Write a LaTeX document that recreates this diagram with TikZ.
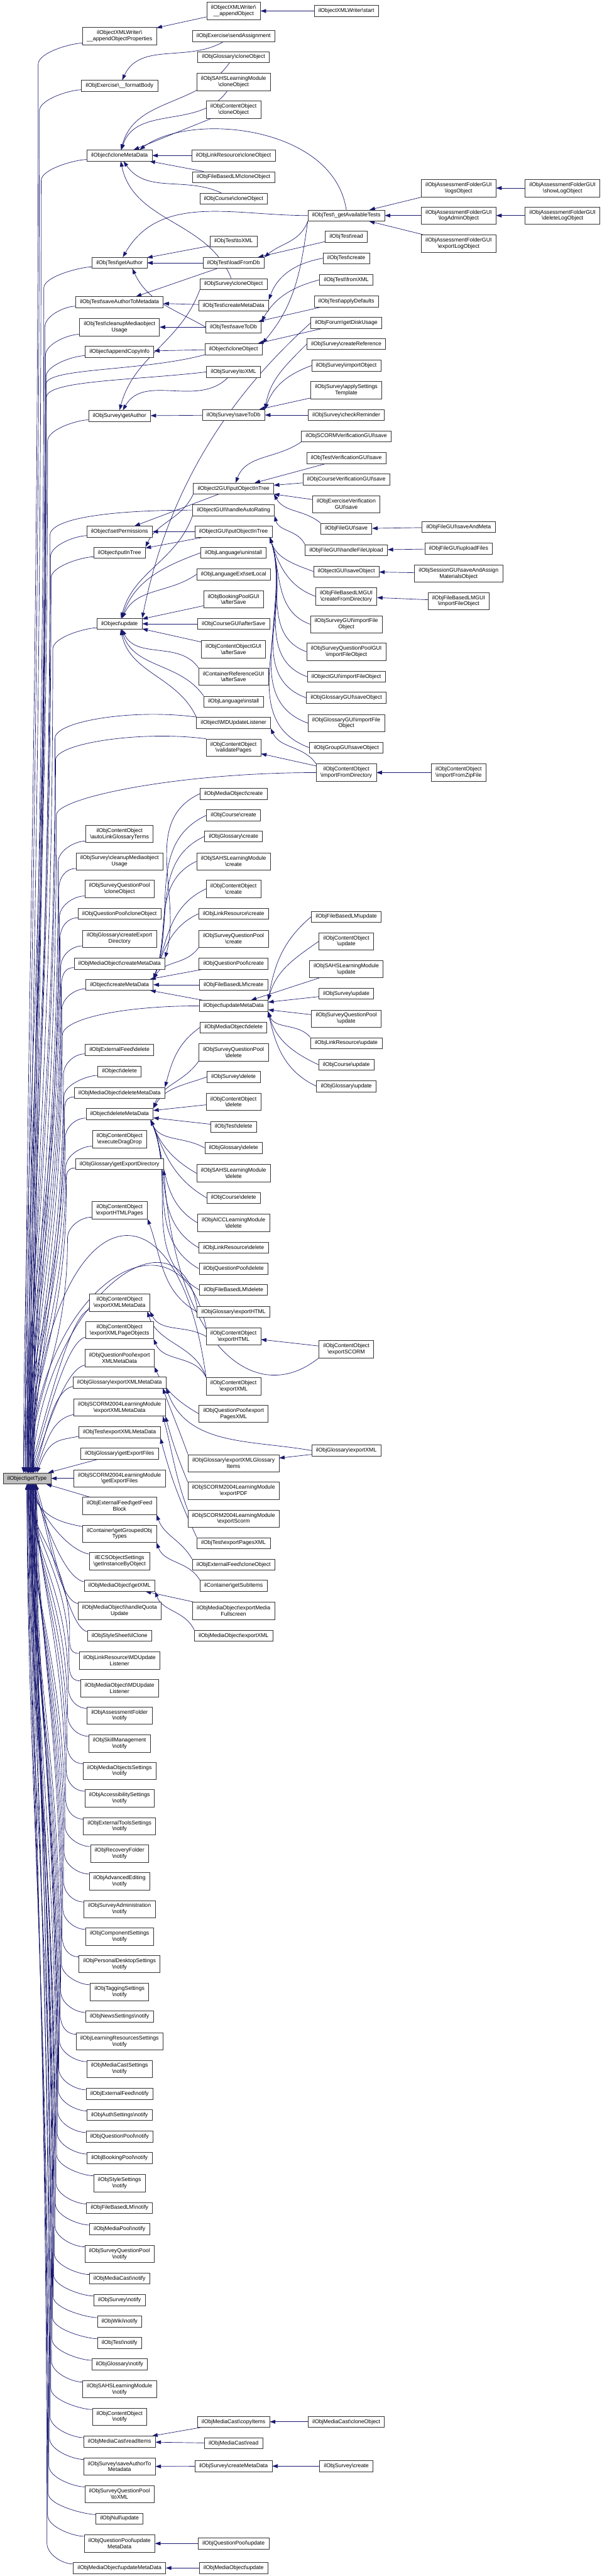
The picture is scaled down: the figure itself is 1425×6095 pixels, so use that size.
\documentclass[tikz,border=0pt]{standalone}
\usepackage{fontspec}
\setmainfont{Liberation Sans}
\usetikzlibrary{arrows.meta, backgrounds, calc}

\definecolor{edgeblue}{HTML}{191970}
\newcommand{\bsl}{\textbackslash}
\newcommand{\graphfont}{\fontsize{13pt}{14.5pt}\selectfont}
% notify() callers: name / y
\newcommand{\notifytall}{AssessmentFolder/4059, SkillManagement/4125,
    MediaObjectsSettings/4190, AccessibilitySettings/4255,
    ExternalToolsSettings/4321, RecoveryFolder/4386, AdvancedEditing/4451,
    SurveyAdministration/4517, ComponentSettings/4582,
    PersonalDesktopSettings/4647, TaggingSettings/4713,
    LearningResourcesSettings/4830, MediaCastSettings/4895,
    StyleSettings/5165, SurveyQuestionPool/5333, SAHSLearningModule/5653,
    ContentObject/5718}
\newcommand{\notifyflat}{NewsSettings/4771, ExternalFeed/4954, AuthSettings/5004,
    QuestionPool/5055, BookingPool/5106, FileBasedLM/5224, MediaPool/5274,
    MediaCast/5391, Survey/5442, Wiki/5493, Test/5543, Glossary/5594}

\begin{document}
\begin{tikzpicture}[
    x=1pt, y=1pt,
    every node/.style={font=\graphfont},
    >={Triangle[length=13pt,width=9pt]},
    fn/.style={draw=black!80, line width=0.9pt, fill=white, minimum height=26pt,
               inner xsep=10pt, inner ysep=2pt, align=center},
    tall/.style={fn, minimum height=41pt},
    call/.style={->, draw=edgeblue, line width=1pt},
]

\useasboundingbox (0,0) rectangle (1425,-6095);
\begin{pgfonlayer}{background}
  \fill[white] (0,0) rectangle (1425,-6095);
\end{pgfonlayer}

% === the called function ===
\node[fn, fill=black!25] (gt) at (64,-3498) {ilObject\bsl getType};

% === column 1 ===
\node[tall] (axp) at (283,-85)  {ilObjectXMLWriter\bsl\\\_\_appendObjectProperties};
\node[fn]   (fmb) at (283,-203) {ilObjExercise\bsl\_\_formatBody};
\node[fn]   (cmd) at (283,-368) {ilObject\bsl cloneMetaData};
\node[fn]   (tga) at (283,-622) {ilObjTest\bsl getAuthor};
\node[fn]   (tsa) at (283,-715) {ilObjTest\bsl saveAuthorToMetadata};
\node[tall] (tcu) at (283,-774) {ilObjTest\bsl cleanupMediaobject\\Usage};
\node[fn]   (aci) at (283,-832) {ilObject\bsl appendCopyInfo};
\node[fn]   (sga) at (283,-984) {ilObjSurvey\bsl getAuthor};
\node[fn]   (spm) at (283,-1258) {ilObject\bsl setPermissions};
\node[fn]   (pit) at (283,-1308) {ilObject\bsl putInTree};
\node[fn]   (upd) at (283,-1476) {ilObject\bsl update};
\node[tall] (alg) at (283,-1973) {ilObjContentObject\\\bsl autoLinkGlossaryTerms};
\node[tall] (scu) at (283,-2038) {ilObjSurvey\bsl cleanupMediaobject\\Usage};
\node[tall] (sqc) at (283,-2103) {ilObjSurveyQuestionPool\\\bsl cloneObject};
\node[fn]   (qpc) at (283,-2162) {ilObjQuestionPool\bsl cloneObject};
\node[tall] (ged) at (283,-2221) {ilObjGlossary\bsl createExport\\Directory};
\node[fn]   (mcm) at (283,-2280) {ilObjMediaObject\bsl createMetaData};
\node[fn]   (ocm) at (283,-2330) {ilObject\bsl createMetaData};
\node[fn]   (efd) at (283,-2484) {ilObjExternalFeed\bsl delete};
\node[fn]   (odl) at (283,-2535) {ilObject\bsl delete};
\node[fn]   (mdm) at (283,-2586) {ilObjMediaObject\bsl deleteMetaData};
\node[fn]   (odm) at (283,-2636) {ilObject\bsl deleteMetaData};
\node[tall] (edd) at (283,-2695) {ilObjContentObject\\\bsl executeDragDrop};
\node[fn]   (gxd) at (283,-2754) {ilObjGlossary\bsl getExportDirectory};
\node[tall] (ehp) at (283,-2863) {ilObjContentObject\\\bsl exportHTMLPages};
\node[tall] (cxm) at (283,-3082) {ilObjContentObject\\\bsl exportXMLMetaData};
\node[tall] (cxp) at (283,-3147) {ilObjContentObject\\\bsl exportXMLPageObjects};
\node[tall] (qxm) at (283,-3213) {ilObjQuestionPool\bsl export\\XMLMetaData};
\node[fn]   (gxm) at (283,-3271) {ilObjGlossary\bsl exportXMLMetaData};
\node[tall] (sxm) at (283,-3330) {ilObjSCORM2004LearningModule\\\bsl exportXMLMetaData};
\node[fn]   (txm) at (283,-3389) {ilObjTest\bsl exportXMLMetaData};
\node[fn]   (gef) at (283,-3439) {ilObjGlossary\bsl getExportFiles};
\node[tall] (sef) at (283,-3498) {ilObjSCORM2004LearningModule\\\bsl getExportFiles};
\node[tall] (fb)  at (283,-3563) {ilObjExternalFeed\bsl getFeed\\Block};
\node[tall] (got) at (283,-3629) {ilContainer\bsl getGroupedObj\\Types};
\node[tall] (ecs) at (283,-3694) {ilECSObjectSettings\\\bsl getInstanceByObject};
\node[fn]   (mgx) at (283,-3752) {ilObjMediaObject\bsl getXML};
\node[tall] (mhq) at (283,-3811) {ilObjMediaObject\bsl handleQuota\\Update};
\node[fn]   (ssc) at (283,-3870) {ilObjStyleSheet\bsl ilClone};
\node[tall] (lmu) at (283,-3929) {ilObjLinkResource\bsl MDUpdate\\Listener};
\node[tall] (mmu) at (283,-3994) {ilObjMediaObject\bsl MDUpdate\\Listener};
\foreach \lb/\yy in \notifytall
  \node[tall] (nt\lb) at (283,-\yy) {ilObj\lb\\\bsl notify};
\foreach \lb/\yy in \notifyflat
  \node[fn] (nt\lb) at (283,-\yy) {ilObj\lb\bsl notify};
\node[fn]   (mri) at (283,-5777) {ilObjMediaCast\bsl readItems};
\node[tall] (ssa) at (283,-5836) {ilObjSurvey\bsl saveAuthorTo\\Metadata};
\node[tall] (sqx) at (283,-5901) {ilObjSurveyQuestionPool\\\bsl toXML};
\node[fn]   (nul) at (283,-5959) {ilObjNull\bsl update};
\node[tall] (qum) at (283,-6018) {ilObjQuestionPool\bsl update\\MetaData};
\node[fn]   (mum) at (283,-6076) {ilObjMediaObject\bsl updateMetaData};

% === column 2 ===
\node[tall] (apo) at (553,-26)  {ilObjectXMLWriter\bsl\\\_\_appendObject};
\node[fn]   (esa) at (553,-85)  {ilObjExercise\bsl sendAssignment};
\node[fn]   (gco) at (553,-135) {ilObjGlossary\bsl cloneObject};
\node[tall] (sco) at (553,-194) {ilObjSAHSLearningModule\\\bsl cloneObject};
\node[tall] (cco) at (553,-259) {ilObjContentObject\\\bsl cloneObject};
\node[fn]   (lco) at (553,-368) {ilObjLinkResource\bsl cloneObject};
\node[fn]   (fco) at (553,-419) {ilObjFileBasedLM\bsl cloneObject};
\node[fn]   (kco) at (553,-470) {ilObjCourse\bsl cloneObject};
\node[fn]   (txl) at (553,-571) {ilObjTest\bsl toXML};
\node[fn]   (tld) at (553,-622) {ilObjTest\bsl loadFromDb};
\node[fn]   (svc) at (553,-672) {ilObjSurvey\bsl cloneObject};
\node[fn]   (tcm) at (553,-723) {ilObjTest\bsl createMetaData};
\node[fn]   (tsd) at (553,-774) {ilObjTest\bsl saveToDb};
\node[fn]   (oco) at (553,-826) {ilObject\bsl cloneObject};
\node[fn]   (sxl) at (553,-880) {ilObjSurvey\bsl toXML};
\node[fn]   (ssd) at (553,-982) {ilObjSurvey\bsl saveToDb};
\node[fn]   (p2g) at (553,-1156) {ilObject2GUI\bsl putObjectInTree};
\node[fn]   (har) at (553,-1207) {ilObjectGUI\bsl handleAutoRating};
\node[fn]   (pog) at (553,-1258) {ilObjectGUI\bsl putObjectInTree};
\node[fn]   (lun) at (553,-1308) {ilObjLanguage\bsl uninstall};
\node[fn]   (lsl) at (553,-1359) {ilObjLanguageExt\bsl setLocal};
\node[tall] (bas) at (553,-1418) {ilObjBookingPoolGUI\\\bsl afterSave};
\node[fn]   (cas) at (553,-1476) {ilObjCourseGUI\bsl afterSave};
\node[tall] (oas) at (553,-1536) {ilObjContentObjectGUI\\\bsl afterSave};
\node[tall] (ras) at (553,-1601) {ilContainerReferenceGUI\\\bsl afterSave};
\node[fn]   (lin) at (553,-1660) {ilObjLanguage\bsl install};
\node[fn]   (mdl) at (553,-1710) {ilObject\bsl MDUpdateListener};
\node[tall] (vpg) at (553,-1769) {ilObjContentObject\\\bsl validatePages};
\node[fn]   (moc) at (553,-1878) {ilObjMediaObject\bsl create};
\node[fn]   (kcr) at (553,-1929) {ilObjCourse\bsl create};
\node[fn]   (gcr) at (553,-1979) {ilObjGlossary\bsl create};
\node[tall] (scr) at (553,-2038) {ilObjSAHSLearningModule\\\bsl create};
\node[tall] (ccr) at (553,-2103) {ilObjContentObject\\\bsl create};
\node[fn]   (lcr) at (553,-2162) {ilObjLinkResource\bsl create};
\node[tall] (sqr) at (553,-2221) {ilObjSurveyQuestionPool\\\bsl create};
\node[fn]   (qcr) at (553,-2280) {ilObjQuestionPool\bsl create};
\node[fn]   (fcr) at (553,-2330) {ilObjFileBasedLM\bsl create};
\node[fn]   (umd) at (553,-2380) {ilObject\bsl updateMetaData};
\node[fn]   (mde) at (553,-2431) {ilObjMediaObject\bsl delete};
\node[tall] (sqd) at (553,-2490) {ilObjSurveyQuestionPool\\\bsl delete};
\node[fn]   (svd) at (553,-2548) {ilObjSurvey\bsl delete};
\node[tall] (cde) at (553,-2607) {ilObjContentObject\\\bsl delete};
\node[fn]   (tde) at (553,-2666) {ilObjTest\bsl delete};
\node[fn]   (gde) at (553,-2716) {ilObjGlossary\bsl delete};
\node[tall] (sde) at (553,-2776) {ilObjSAHSLearningModule\\\bsl delete};
\node[fn]   (kde) at (553,-2834) {ilObjCourse\bsl delete};
\node[tall] (ade) at (553,-2893) {ilObjAICCLearningModule\\\bsl delete};
\node[fn]   (lde) at (553,-2952) {ilObjLinkResource\bsl delete};
\node[fn]   (qde) at (553,-3002) {ilObjQuestionPool\bsl delete};
\node[fn]   (fde) at (553,-3052) {ilObjFileBasedLM\bsl delete};
\node[fn]   (ghl) at (553,-3104) {ilObjGlossary\bsl exportHTML};
\node[tall] (chl) at (553,-3162) {ilObjContentObject\\\bsl exportHTML};
\node[tall] (cxl) at (553,-3280) {ilObjContentObject\\\bsl exportXML};
\node[tall] (qpx) at (553,-3345) {ilObjQuestionPool\bsl export\\PagesXML};
\node[tall] (ggi) at (553,-3462) {ilObjGlossary\bsl exportXMLGlossary\\Items};
\node[tall] (spd) at (553,-3527) {ilObjSCORM2004LearningModule\\\bsl exportPDF};
\node[tall] (ssm) at (553,-3593) {ilObjSCORM2004LearningModule\\\bsl exportScorm};
\node[fn]   (tpx) at (553,-3651) {ilObjTest\bsl exportPagesXML};
\node[fn]   (fcl) at (553,-3702) {ilObjExternalFeed\bsl cloneObject};
\node[fn]   (gsi) at (553,-3752) {ilContainer\bsl getSubItems};
\node[tall] (mef) at (553,-3811) {ilObjMediaObject\bsl exportMedia\\Fullscreen};
\node[fn]   (mex) at (553,-3870) {ilObjMediaObject\bsl exportXML};
\node[fn]   (mci) at (553,-5730) {ilObjMediaCast\bsl copyItems};
\node[fn]   (mrd) at (553,-5781) {ilObjMediaCast\bsl read};
\node[fn]   (scm) at (553,-5835) {ilObjSurvey\bsl createMetaData};
\node[fn]   (qup) at (553,-6018) {ilObjQuestionPool\bsl update};
\node[fn]   (mup) at (553,-6076) {ilObjMediaObject\bsl update};

% === column 3 ===
\node[fn]   (xst) at (820,-26)  {ilObjectXMLWriter\bsl start};
\node[fn]   (gat) at (820,-510) {ilObjTest\bsl\_getAvailableTests};
\node[fn]   (trd) at (820,-560) {ilObjTest\bsl read};
\node[fn]   (tcr) at (820,-611) {ilObjTest\bsl create};
\node[fn]   (tfx) at (820,-662) {ilObjTest\bsl fromXML};
\node[fn]   (tad) at (820,-713) {ilObjTest\bsl applyDefaults};
\node[fn]   (fdu) at (820,-764) {ilObjForum\bsl getDiskUsage};
\node[fn]   (scf) at (820,-814) {ilObjSurvey\bsl createReference};
\node[fn]   (sio) at (820,-865) {ilObjSurvey\bsl importObject};
\node[tall] (sas) at (820,-923) {ilObjSurvey\bsl applySettings\\Template};
\node[fn]   (crm) at (820,-982) {ilObjSurvey\bsl checkReminder};
\node[fn]   (vsc) at (820,-1032) {ilObjSCORMVerificationGUI\bsl save};
\node[fn]   (vte) at (820,-1084) {ilObjTestVerificationGUI\bsl save};
\node[fn]   (vco) at (820,-1134) {ilObjCourseVerificationGUI\bsl save};
\node[tall] (vex) at (820,-1193) {ilObjExerciseVerification\\GUI\bsl save};
\node[fn]   (fsv) at (820,-1251) {ilObjFileGUI\bsl save};
\node[fn]   (ffu) at (820,-1302) {ilObjFileGUI\bsl handleFileUpload};
\node[fn]   (gso) at (820,-1352) {ilObjectGUI\bsl saveObject};
\node[tall] (fcd) at (820,-1411) {ilObjFileBasedLMGUI\\\bsl createFromDirectory};
\node[tall] (sgi) at (820,-1477) {ilObjSurveyGUI\bsl importFile\\Object};
\node[tall] (qgi) at (820,-1542) {ilObjSurveyQuestionPoolGUI\\\bsl importFileObject};
\node[fn]   (ogi) at (820,-1601) {ilObjectGUI\bsl importFileObject};
\node[fn]   (ggs) at (820,-1651) {ilObjGlossaryGUI\bsl saveObject};
\node[tall] (ggf) at (820,-1711) {ilObjGlossaryGUI\bsl importFile\\Object};
\node[fn]   (grs) at (820,-1769) {ilObjGroupGUI\bsl saveObject};
\node[tall] (ifd) at (820,-1828) {ilObjContentObject\\\bsl importFromDirectory};
\node[fn]   (fup) at (820,-2169) {ilObjFileBasedLM\bsl update};
\node[tall] (cup) at (820,-2227) {ilObjContentObject\\\bsl update};
\node[tall] (hup) at (820,-2293) {ilObjSAHSLearningModule\\\bsl update};
\node[fn]   (vup) at (820,-2351) {ilObjSurvey\bsl update};
\node[tall] (qpu) at (820,-2410) {ilObjSurveyQuestionPool\\\bsl update};
\node[fn]   (lup) at (820,-2468) {ilObjLinkResource\bsl update};
\node[fn]   (kup) at (820,-2519) {ilObjCourse\bsl update};
\node[fn]   (gup) at (820,-2570) {ilObjGlossary\bsl update};
\node[tall] (csc) at (820,-3192) {ilObjContentObject\\\bsl exportSCORM};
\node[fn]   (gex) at (820,-3432) {ilObjGlossary\bsl exportXML};
\node[fn]   (mcc) at (820,-5730) {ilObjMediaCast\bsl cloneObject};
\node[fn]   (svr) at (820,-5835) {ilObjSurvey\bsl create};

% === columns 4 and 5 ===
\node[tall] (alo) at (1086,-445)  {ilObjAssessmentFolderGUI\\\bsl logsObject};
\node[tall] (aad) at (1086,-510)  {ilObjAssessmentFolderGUI\\\bsl logAdminObject};
\node[tall] (aex) at (1086,-576)  {ilObjAssessmentFolderGUI\\\bsl exportLogObject};
\node[fn]   (fsm) at (1086,-1247) {ilObjFileGUI\bsl saveAndMeta};
\node[fn]   (fuf) at (1086,-1298) {ilObjFileGUI\bsl uploadFiles};
\node[tall] (sam) at (1086,-1357) {ilObjSessionGUI\bsl saveAndAssign\\MaterialsObject};
\node[tall] (fif) at (1086,-1422) {ilObjFileBasedLMGUI\\\bsl importFileObject};
\node[tall] (izf) at (1086,-1828) {ilObjContentObject\\\bsl importFromZipFile};
\node[tall] (asl) at (1332,-445)  {ilObjAssessmentFolderGUI\\\bsl showLogObject};
\node[tall] (adl) at (1332,-510)  {ilObjAssessmentFolderGUI\\\bsl deleteLogObject};

\begin{pgfonlayer}{background}
% === calls into getType from above: short bend, long lane, tip on a short end piece ===
\foreach \c [count=\i] in {axp,fmb,cmd,tga,tsa,tcu,aci,sga,spm,pit,upd,alg,
    scu,sqc,qpc,ged,mcm,ocm,efd,odl,mdm,odm,edd,gxd,ehp} {
  \pgfmathsetmacro\sh{mod(\i,7)*4-8}
  \draw[call] let \p1=([yshift=4pt]\c.south west), \p2=([xshift=\sh pt]gt.north),
      \n1={175-0.025*(\y1-\y2)}, \n2={\y1-50},
      \n3={0.5*(\y1-50-\y2)}, \n4={0.3*(\y1-50-\y2)} in
    (\p1) .. controls +(-25,0) and +(0,28) .. (\n1,\n2)
          .. controls +(0,-\n3) and +(0,\n4) .. ([yshift=12pt]\p2) -- (\p2);
}
\foreach \c [count=\i] in {cxm,cxp,qxm,gxm,sxm,txm} {
  \pgfmathsetmacro\sh{\i*4}
  \draw[call] let \p1=([yshift=4pt]\c.south west), \p2=([xshift=\sh pt]gt.north) in
    (\p1) .. controls +(-50,-10) and +(25,70) .. ([shift={(3pt,10pt)}]\p2) -- (\p2);
}
% from col2 and col3 straight into getType
\foreach \c/\ox/\oy/\ly/\sh in {oco.south west/-150/-40/70/2, sxl.west/-170/-20/60/6,
    har.west/-200/0/60/10, mdl.north west/-150/20/50/4, vpg.north west/-150/20/50/8,
    ifd.west/-330/0/100/12, umd.west/-180/0/70/14} {
  \draw[call] let \p1=(\c), \p2=([xshift=\sh pt]gt.north),
      \n1={175-0.025*(\y1-\y2)}, \n2={\y1-\ly},
      \n3={0.5*(\y1-\ly-\y2)}, \n4={0.3*(\y1-\ly-\y2)} in
    (\p1) .. controls +(\ox,\oy) and +(0,40) .. (\n1,\n2)
          .. controls +(0,-\n3) and +(0,\n4) .. ([yshift=12pt]\p2) -- (\p2);
}
\draw[call] (gef) -- (gt);
\draw[call] (sef) -- (gt);
\draw[call] (fb) -- (gt);
\draw[call] (chl.north west) .. controls +(-60,300) and +(30,450) .. ([shift={(4pt,12pt)}]gt.north) -- ([xshift=4pt]gt.north);
\draw[call] (cxl.north west) .. controls +(-70,520) and +(30,640) .. ([shift={(8pt,12pt)}]gt.north) -- ([xshift=8pt]gt.north);
\draw[call] (ghl.north west) .. controls +(-50,250) and +(30,400) .. ([shift={(12pt,12pt)}]gt.north) -- ([xshift=12pt]gt.north);

% === calls into getType from below ===
\foreach \c [count=\i] in {got,ecs,mgx,mhq,ssc} {
  \pgfmathsetmacro\sh{\i*4}
  \draw[call] let \p1=([yshift=-4pt]\c.north west), \p2=([xshift=\sh pt]gt.south) in
    (\p1) .. controls +(-50,10) and +(25,-70) .. ([shift={(3pt,-10pt)}]\p2) -- (\p2);
}
\foreach \c [count=\i] in {lmu,mmu,mri,ssa,sqx,nul,qum,mum} {
  \pgfmathsetmacro\sh{mod(\i,5)*4}
  \draw[call] let \p1=([yshift=-4pt]\c.north west), \p2=([xshift=\sh pt]gt.south),
      \n1={175-0.025*(\y2-\y1)}, \n2={\y1+50},
      \n3={0.5*(\y2-\y1-50)}, \n4={0.3*(\y2-\y1-50)} in
    (\p1) .. controls +(-25,0) and +(0,-28) .. (\n1,\n2)
          .. controls +(0,\n3) and +(0,-\n4) .. ([yshift=-12pt]\p2) -- (\p2);
}
\foreach \lb/\yy [count=\i] in \notifytall {
  \pgfmathsetmacro\sh{mod(\i,6)*4+2}
  \draw[call] let \p1=([yshift=-4pt]nt\lb.north west), \p2=([xshift=\sh pt]gt.south),
      \n1={175-0.025*(\y2-\y1)}, \n2={\y1+50},
      \n3={0.5*(\y2-\y1-50)}, \n4={0.3*(\y2-\y1-50)} in
    (\p1) .. controls +(-25,0) and +(0,-28) .. (\n1,\n2)
          .. controls +(0,\n3) and +(0,-\n4) .. ([yshift=-12pt]\p2) -- (\p2);
}
\foreach \lb/\yy [count=\i] in \notifyflat {
  \pgfmathsetmacro\sh{mod(\i,6)*4}
  \draw[call] let \p1=([yshift=-4pt]nt\lb.north west), \p2=([xshift=\sh pt]gt.south),
      \n1={175-0.025*(\y2-\y1)}, \n2={\y1+50},
      \n3={0.5*(\y2-\y1-50)}, \n4={0.3*(\y2-\y1-50)} in
    (\p1) .. controls +(-25,0) and +(0,-28) .. (\n1,\n2)
          .. controls +(0,\n3) and +(0,-\n4) .. ([yshift=-12pt]\p2) -- (\p2);
}

% === top block ===
\draw[call] (xst) -- (apo);
\draw[call] (apo) -- (axp);
\draw[call] (esa) to[out=210,in=65] (fmb);
\draw[call] (gco) to[out=235,in=75] (cmd);
\draw[call] (sco) to[out=235,in=72] (cmd);
\draw[call] (cco) -- (cmd);
\draw[call] (lco) -- (cmd);
\draw[call] (fco) -- (cmd);
\draw[call] (kco) to[out=155,in=-55] (cmd);
\draw[call] (svc) to[out=112,in=-78] (cmd);
\draw[call] (gat.north) .. controls +(-30,200) and +(120,90) .. ([xshift=-30pt]cmd.north east);
\draw[call] (asl) -- (alo);
\draw[call] (adl) -- (aad);
\draw[call] (alo) -- (gat);
\draw[call] (aad) -- (gat);
\draw[call] (aex) -- (gat);
\draw[call] (gat) to[out=180,in=60] (tga);
\draw[call] (txl) -- (tga);
\draw[call] (tld) -- (tga);
\draw[call] (trd) -- (tld);
\draw[call] (gat.south west) to[out=250,in=40] (tld.north east);
\draw[call] (gat.south west) to[out=262,in=50] (oco.north east);
\draw[call] (tld) -- (tsa);
\draw[call] (tcm) -- (tsa);
\draw[call] (tcr.west) to[out=190,in=70] (tcm.north east);
\draw[call] (tsd.west) to[out=150,in=-65] ([xshift=-35pt]tga.south east);
\draw[call] (tsd) -- (tcu);
\draw[call] (tad) -- (tsd);
\draw[call] (tfx.west) to[out=195,in=60] (tsd.north east);
\draw[call] (fdu) -- (oco);
\draw[call] (oco) -- (aci);
\draw[call] (sxl) to[out=225,in=60] (sga);
\draw[call] (svc.south west) to[out=250,in=75] (sga.north);
\draw[call] (ssd) -- (sga);
\draw[call] (crm) -- (ssd);
\draw[call] (sas) -- (ssd);
\draw[call] (sio.west) to[out=200,in=70] (ssd.north east);
\draw[call] (scf.west) to[out=225,in=80] (ssd.north east);
\draw[call] (fdu.west) .. controls +(-200,-180) and +(60,300) .. (upd.north east);

% === GUI block ===
\draw[call] (vsc.south west) to[out=215,in=70] (p2g);
\draw[call] (vte) -- (p2g);
\draw[call] (vco) -- (p2g);
\draw[call] (vex) -- (p2g);
\draw[call] (fsv.north west) to[out=140,in=-60] (p2g.south east);
\draw[call] (ffu.north west) to[out=115,in=-75] (har.south east);
\draw[call] (fsm) -- (fsv);
\draw[call] (fuf) -- (ffu);
\draw[call] (sam) -- (gso);
\draw[call] (fif) -- (fcd);
\foreach \c in {gso,fcd,sgi,qgi,ogi,ggs,ggf,grs}
  \draw[call] (\c.west) to[out=160,in=-72] ([xshift=-6pt]pog.south east);
\draw[call] (p2g) -- (spm);
\draw[call] (p2g.south west) to[out=245,in=65] (pit.north east);
\draw[call] (pog) -- (spm);
\draw[call] (pog) -- (pit);
\draw[call] (har.south west) to[out=250,in=75] (upd);
\draw[call] (lun.west) to[out=200,in=70] (upd);
\draw[call] (lsl.west) to[out=215,in=65] (upd);
\draw[call] (bas) -- (upd);
\draw[call] (cas) -- (upd);
\draw[call] (oas) -- (upd);
\draw[call] (ras.north west) to[out=125,in=-65] (upd);
\draw[call] (lin.north west) to[out=125,in=-72] (upd);
\draw[call] (mdl.north west) to[out=115,in=-78] (upd);
\draw[call] (ifd.north west) to[out=125,in=-65] (mdl.south east);
\draw[call] (ifd) -- (vpg);
\draw[call] (izf) -- (ifd);

% === meta data block ===
\draw[call] (moc.west) to[out=205,in=75] (mcm.north east);
\foreach \c in {kcr,gcr,scr,ccr,lcr}
  \draw[call] (\c.west) to[out=205,in=70] (ocm.north east);
\draw[call] (sqr.south west) to[out=235,in=60] (ocm.north east);
\draw[call] (qcr) -- (ocm);
\draw[call] (fcr) -- (ocm);
\draw[call] (umd) -- (ocm);
\draw[call] (fup.west) to[out=220,in=80] (umd.north east);
\draw[call] (cup.west) to[out=215,in=75] (umd.north east);
\draw[call] (hup) -- (umd);
\draw[call] (vup) -- (umd);
\draw[call] (qpu) -- (umd);
\draw[call] (lup.north west) to[out=130,in=-70] (umd.south east);
\draw[call] (kup.west) to[out=155,in=-75] (umd.south east);
\draw[call] (gup.west) to[out=155,in=-78] (umd.south east);
\draw[call] (mde.west) to[out=215,in=75] (mdm.north east);
\draw[call] (sqd.south west) to[out=235,in=70] (odm.north east);
\draw[call] (svd.west) to[out=200,in=60] (odm.north east);
\draw[call] (cde) -- (odm);
\draw[call] (tde) -- (odm);
\foreach \c in {gde,sde,kde,ade,lde,qde,fde}
  \draw[call] (\c.west) to[out=150,in=-68] ([xshift=-6pt]odm.south east);

% === export block ===
\draw[call] (ghl.west) to[out=150,in=-70] (ehp.south east);
\draw[call] (chl.west) to[out=150,in=-62] (cxm.south east);
\draw[call] (csc) -- (chl);
\draw[call] (csc.south west) .. controls +(-150,-120) and +(30,-420) .. (gxd.south east);
\draw[call] (cxl.north west) to[out=115,in=-68] (cxp.south east);
\draw[call] (cxl.north west) to[out=108,in=-72] ([xshift=-6pt]cxm.south east);
\draw[call] (qpx.west) to[out=150,in=-65] (qxm.south east);
\draw[call] (gex.west) to[out=170,in=-70] (gxm.south east);
\draw[call] (gex) -- (ggi);
\draw[call] (ggi.north west) to[out=110,in=-70] ([xshift=-8pt]gxm.south east);
\draw[call] (spd.north west) to[out=112,in=-75] (sxm.south east);
\draw[call] (ssm.north west) to[out=110,in=-75] ([xshift=-6pt]sxm.south east);
\draw[call] (tpx.north west) to[out=115,in=-75] (txm.south east);
\draw[call] (fcl.north west) to[out=120,in=-70] (fb.south east);
\draw[call] (gsi.north west) to[out=120,in=-70] (got.south east);
\draw[call] (mef) -- (mgx);
\draw[call] (mex.north west) to[out=115,in=-70] (mgx.south east);

% === bottom block ===
\draw[call] (mcc) -- (mci);
\draw[call] (mci) -- (mri);
\draw[call] (mrd) -- (mri);
\draw[call] (svr) -- (scm);
\draw[call] (scm) -- (ssa);
\draw[call] (qup) -- (qum);
\draw[call] (mup) -- (mum);
\end{pgfonlayer}

\end{tikzpicture}
\end{document}
